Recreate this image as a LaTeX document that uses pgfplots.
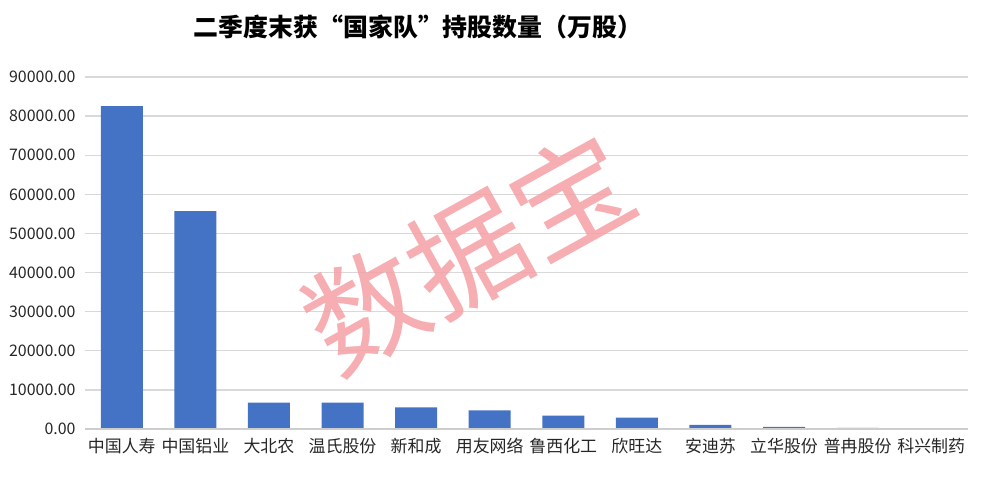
\documentclass[border=0pt]{standalone}
\usepackage{pgfplots}
\pgfplotsset{compat=1.18}
\usepackage{fontspec}
\setmainfont{Noto Sans CJK SC}
\newfontfamily\cjk{Noto Sans CJK SC}
\definecolor{barblue}{RGB}{68,114,196}
\definecolor{gridgray}{RGB}{217,217,217}
\definecolor{basegray}{RGB}{205,205,205}
\definecolor{wm}{RGB}{244,160,164}
\begin{document}
\begin{tikzpicture}[x=1bp,y=1bp]
\useasboundingbox (0,0) rectangle (984,477);
\begin{axis}[
  at={(85bp,48bp)}, anchor=south west,
  scale only axis, width=883bp, height=352bp,
  xmin=-0.5, xmax=11.5, ymin=0, ymax=90000,
  axis line style={draw=none},
  ybar, bar width=42bp,
  xtick=data,
  scaled y ticks=false,
  xticklabels={中国人寿,中国铝业,大北农,温氏股份,新和成,用友网络,鲁西化工,欣旺达,安迪苏,立华股份,普冉股份,科兴制药},
  ytick={0,10000,20000,30000,40000,50000,60000,70000,80000,90000},
  yticklabels={0.00,10000.00,20000.00,30000.00,40000.00,50000.00,60000.00,70000.00,80000.00,90000.00},
  major tick length=0pt,
  ymajorgrids, grid style={gridgray, line width=1.3bp},
  xticklabel style={font=\cjk\fontsize{17}{18}\selectfont, text=black!85, yshift=-6bp},
  yticklabel style={font=\cjk\fontsize{16}{18}\selectfont, text=black!85, xshift=-6bp},
  clip=false,
]
\addplot[fill=barblue, draw=none] coordinates {
  (0,82540) (1,55710) (2,6730) (3,6730) (4,5530) (5,4740)
  (6,3420) (7,2890) (8,1050) (9,530) (10,260) (11,60)
};
\draw[basegray, line width=1.6bp] (rel axis cs:0,0) -- (rel axis cs:1,0);
\end{axis}
\node[font=\cjk\fontsize{25}{27}\selectfont\bfseries, text=black] at (418,450) {二季度末获“国家队”持股数量（万股）};
\node[rotate=29, text=wm, opacity=0.85, font=\cjk\fontsize{118}{120}\selectfont] at (468,224) {数据宝};
\end{tikzpicture}
\end{document}
